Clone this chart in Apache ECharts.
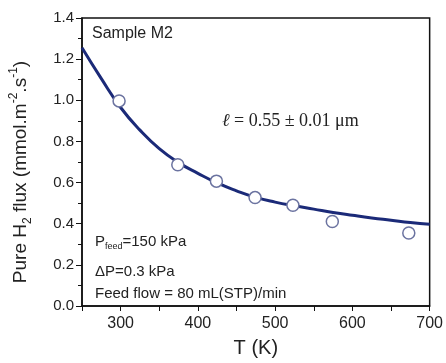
<!DOCTYPE html>
<html>
<head>
<meta charset="utf-8">
<script src="https://cdn.jsdelivr.net/npm/echarts@6/dist/echarts.min.js"></script>
<style>html,body{margin:0;padding:0;background:#fff;}#c{width:446px;height:363px;}</style>
</head>
<body>
<div id="c"></div>
<script>
// Measured points (T in K, flux)
var expT = [298, 374, 424, 474, 523, 574, 673];
var expFlux = [0.997, 0.687, 0.607, 0.527, 0.490, 0.411, 0.355];
// Fitted curve
var fitT = [250, 275, 300, 325, 350, 375, 400, 425, 450, 475, 500, 525, 550, 575, 600, 625, 650, 675, 700];
var fitFlux = [1.255, 1.105, 0.965, 0.855, 0.765, 0.697, 0.645, 0.598, 0.560, 0.528, 0.505, 0.487, 0.471, 0.455, 0.441, 0.428, 0.417, 0.406, 0.397];
// Axis ticks
var xTickLabels = [300, 400, 500, 600, 700];
var xTicks = [250, 300, 350, 400, 450, 500, 550, 600, 650, 700];

var FONT = '"Liberation Sans", Arial, Helvetica, sans-serif';
var chart = echarts.init(document.getElementById('c'), null, {renderer: 'canvas'});
var expData = expT.map(function (t, i) { return [t, expFlux[i]]; });
var fitData = fitT.map(function (t, i) { return [t, fitFlux[i]]; });

chart.setOption({
  animation: false,
  backgroundColor: '#fff',
  grid: {left: 82, right: 15, top: 18, bottom: 52, show: true, borderColor: '#111', borderWidth: 1.5, backgroundColor: 'transparent'},
  xAxis: {
    type: 'value', min: 250, max: 700,
    name: 'T (K)', nameLocation: 'middle', nameGap: 32,
    nameTextStyle: {fontFamily: FONT, fontSize: 20, color: '#222'},
    axisLine: {show: true, lineStyle: {color: '#111', width: 1.5}},
    axisTick: {show: true, customValues: xTicks, length: 5, lineStyle: {color: '#111', width: 1}},
    axisLabel: {customValues: xTickLabels, fontFamily: FONT, fontSize: 16, color: '#222', margin: 10},
    splitLine: {show: false}
  },
  yAxis: {
    type: 'value', min: 0, max: 1.4, interval: 0.2,
    name: '{a|Pure H}{sub|2}{a| flux (mmol.m}{sup|-2}{a|.s}{sup|-1}{a|)}',
    nameLocation: 'middle', nameGap: 48, nameRotate: 90,
    nameTextStyle: {
      fontFamily: FONT, fontSize: 19, color: '#222', padding: [0, 20, 0, 0],
      rich: {
        a: {fontFamily: FONT, fontSize: 19, color: '#222', lineHeight: 26},
        sub: {fontFamily: FONT, fontSize: 12, color: '#222', verticalAlign: 'bottom', lineHeight: 26, padding: [8, 0, 0, 0]},
        sup: {fontFamily: FONT, fontSize: 12, color: '#222', verticalAlign: 'top', lineHeight: 26, padding: [0, 0, 10, 0]}
      }
    },
    axisLine: {show: true, lineStyle: {color: '#111', width: 1.5}},
    axisTick: {show: true, length: 6, lineStyle: {color: '#111', width: 1}},
    minorTick: {show: true, splitNumber: 2, length: 4, lineStyle: {color: '#111', width: 1}},
    axisLabel: {fontFamily: FONT, fontSize: 15, color: '#222', margin: 8,
      formatter: function (v) { return v.toFixed(1); }},
    splitLine: {show: false},
    minorSplitLine: {show: false}
  },
  series: [
    {
      type: 'line', data: fitData, smooth: true, showSymbol: false, symbol: 'none',
      lineStyle: {color: '#1b2a78', width: 3}, z: 2
    },
    {
      type: 'scatter', data: expData, symbol: 'circle', symbolSize: 12,
      itemStyle: {color: '#fff', borderColor: '#6b73a0', borderWidth: 1.5, opacity: 1}, z: 3
    }
  ],
  graphic: [
    {type: 'text', left: 92, top: 26, style: {text: 'Sample M2', font: '16px ' + FONT, fill: '#222'}},
    {type: 'text', left: 222, top: 112, style: {
      text: '{i|ℓ}{r| = 0.55 ± 0.01 μm}',
      rich: {
        i: {font: 'italic 18px "Liberation Serif", "DejaVu Serif", serif', fill: '#222'},
        r: {font: '18px "Liberation Serif", "DejaVu Serif", serif', fill: '#222'}
      }}},
    {type: 'text', left: 95, top: 234, style: {
      text: '{a|P}{s|feed}{a|=150 kPa}',
      rich: {
        a: {font: '15px ' + FONT, fill: '#222', lineHeight: 20},
        s: {font: '9px ' + FONT, fill: '#222', lineHeight: 20, verticalAlign: 'bottom', padding: [8, 0, 0, 0]}
      }}},
    {type: 'text', left: 95, top: 264, style: {text: 'ΔP=0.3 kPa', font: '15px ' + FONT, fill: '#222'}},
    {type: 'text', left: 95, top: 286, style: {text: 'Feed flow = 80 mL(STP)/min', font: '15px ' + FONT, fill: '#222'}}
  ]
});
</script>
</body>
</html>
